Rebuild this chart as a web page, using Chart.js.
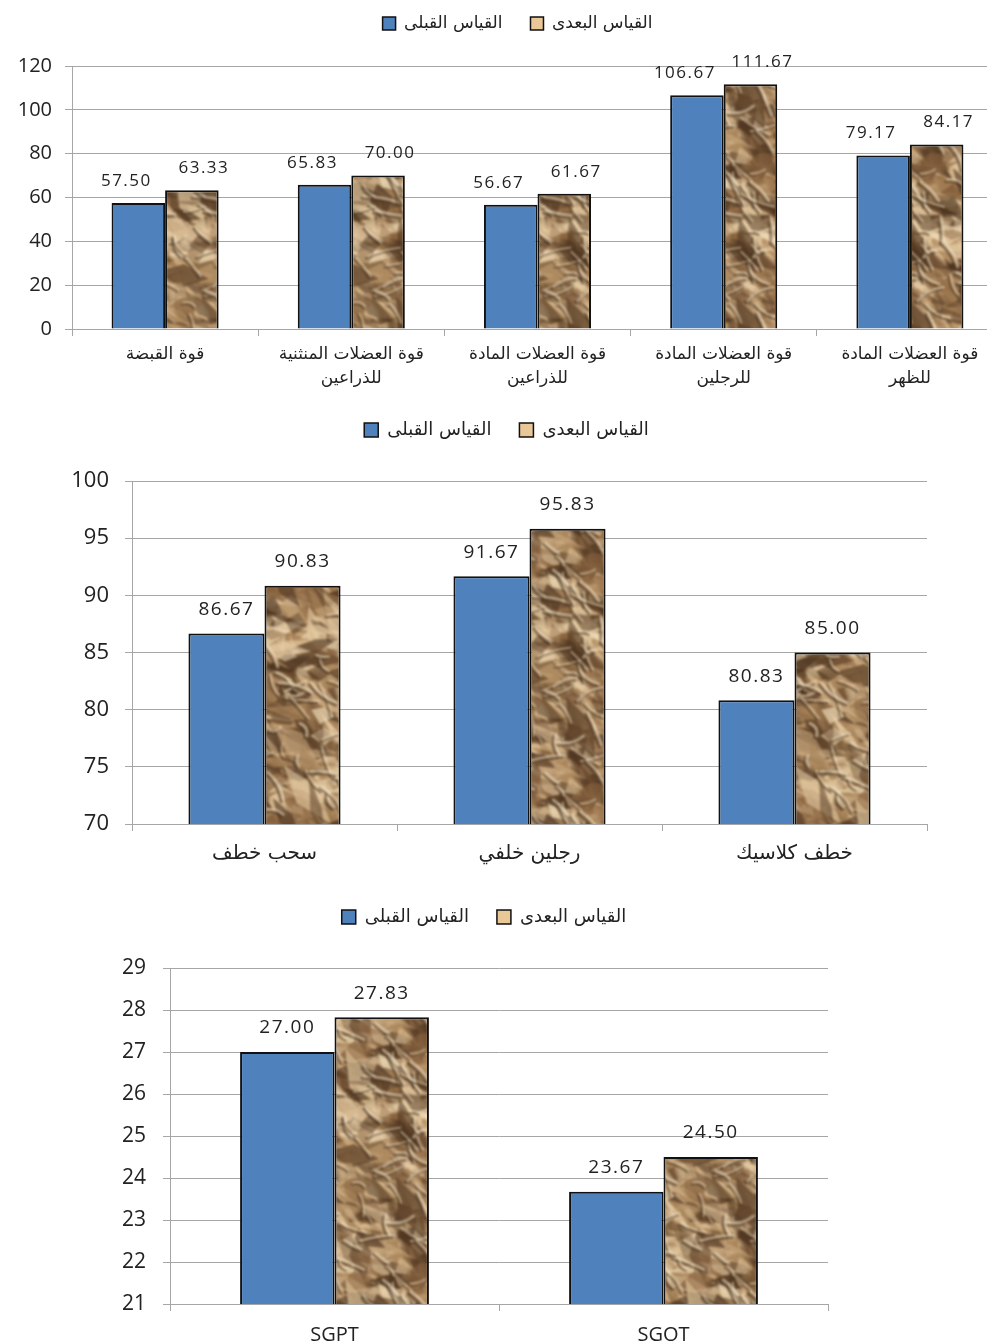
<!DOCTYPE html>
<html>
<head>
<meta charset="utf-8">
<script src="https://cdn.jsdelivr.net/npm/chart.js@4/dist/chart.umd.min.js"></script>
<style>
  html, body { margin: 0; padding: 0; background: #fff; }
  body { width: 987px; height: 1343px; position: relative; overflow: hidden; }
  canvas { position: absolute; left: 0; }
</style>
</head>
<body>
<canvas id="c1" width="1003" height="400" style="top:0px"></canvas>
<canvas id="c2" width="987" height="480" style="top:400px"></canvas>
<canvas id="c3" width="987" height="463" style="top:880px"></canvas>
<script>
// اسماء القياسين
var seriesNames = ['القياس القبلى', 'القياس البعدى'];

// الشكل 1
var labels1 = [
    'قوة القبضة',
    ['قوة العضلات المنثنية', 'للذراعين'],
    ['قوة العضلات المادة', 'للذراعين'],
    ['قوة العضلات المادة', 'للرجلين'],
    ['قوة العضلات المادة', 'للظهر']
];
var pre1 = [57.50, 65.83, 56.67, 106.67, 79.17];
var post1 = [63.33, 70.00, 61.67, 111.67, 84.17];
var ticks1 = { min: 0, max: 120, step: 20 };

// الشكل 2
var labels2 = ['سحب خطف', 'رجلين خلفي', 'خطف كلاسيك'];
var pre2 = [86.67, 91.67, 80.83];
var post2 = [90.83, 95.83, 85.00];
var ticks2 = { min: 70, max: 100, step: 5 };

// الشكل 3
var labels3 = ['SGPT', 'SGOT'];
var pre3 = [27.00, 23.67];
var post3 = [27.83, 24.50];
var ticks3 = { min: 21, max: 29, step: 1 };

var blue = '#4f81bd';
var legendTan = '#e9c796';
var gridColor = '#a6a6a6';
var textColor = '#222';

// texture for the crumpled paper bars (tiles without seams)
function makePaper() {
    var w = 170, h = 230;
    var raw = document.createElement('canvas');
    raw.width = w; raw.height = h;
    var g = raw.getContext('2d');
    var seed = 9871;
    function rnd() { seed = (seed * 16807) % 2147483647; return seed / 2147483647; }
    g.fillStyle = '#ad8a60';
    g.fillRect(0, 0, w, h);
    var shades = ['#efdab5', '#e2c79e', '#caa97e', '#a9845a', '#845f3c', '#5e4229', '#4a321e'];

    function wrapped(draw) {
        for (var ox = -1; ox <= 1; ox++) {
            for (var oy = -1; oy <= 1; oy++) {
                g.save();
                g.translate(ox * w, oy * h);
                draw();
                g.restore();
            }
        }
    }
    // facets
    for (var i = 0; i < 400; i++) {
        (function () {
            var x = rnd() * w, y = rnd() * h;
            var len = 10 + rnd() * 28, wid = 4 + rnd() * 10, ang = -0.4 + rnd() * 1.9;
            var col = shades[Math.floor(rnd() * shades.length)];
            var al = 0.35 + rnd() * 0.4;
            var k = 0.4 + rnd() * 0.6;
            wrapped(function () {
                g.fillStyle = col;
                g.globalAlpha = al;
                g.beginPath();
                g.moveTo(x + Math.cos(ang) * len, y + Math.sin(ang) * len);
                g.lineTo(x + Math.cos(ang + 1.57) * wid, y + Math.sin(ang + 1.57) * wid);
                g.lineTo(x - Math.cos(ang) * len, y - Math.sin(ang) * len);
                g.lineTo(x - Math.cos(ang + 1.57) * wid * k, y - Math.sin(ang + 1.57) * wid * k);
                g.closePath();
                g.fill();
            });
        })();
    }
    // soft folds: dark edge with a light edge next to it
    g.lineCap = 'round';
    for (var j = 0; j < 80; j++) {
        (function () {
            var cx = rnd() * w, cy = rnd() * h, a = -0.5 + rnd() * 2.0, l = 10 + rnd() * 26;
            var bend = (rnd() - 0.5) * 12;
            var lw = 1.4 + rnd() * 1.8;
            wrapped(function () {
                var ex = cx + Math.cos(a) * l, ey = cy + Math.sin(a) * l;
                var mx = (cx + ex) / 2 - Math.sin(a) * bend, my = (cy + ey) / 2 + Math.cos(a) * bend;
                g.globalAlpha = 0.6;
                g.lineWidth = lw;
                g.strokeStyle = '#4a321e';
                g.beginPath(); g.moveTo(cx, cy); g.quadraticCurveTo(mx, my, ex, ey); g.stroke();
                g.strokeStyle = '#f3e2c2';
                g.globalAlpha = 0.55;
                g.beginPath(); g.moveTo(cx + 2, cy - 2); g.quadraticCurveTo(mx + 2, my - 2, ex + 2, ey - 2); g.stroke();
            });
        })();
    }
    g.globalAlpha = 1;

    var big = document.createElement('canvas');
    big.width = w * 3; big.height = h * 3;
    var b = big.getContext('2d');
    for (var tx = 0; tx < 3; tx++) {
        for (var ty = 0; ty < 3; ty++) b.drawImage(raw, tx * w, ty * h);
    }
    var out = document.createElement('canvas');
    out.width = w; out.height = h;
    var o = out.getContext('2d');
    o.filter = 'blur(1.3px)';
    o.drawImage(big, -w, -h);
    return out;
}
var paper = makePaper();

// moves the legend and gives it a fixed height
var legendFix = {
    id: 'legendFix',
    afterInit: function (chart, args, opts) {
        var lg = chart.legend;
        var fit = lg.fit;
        lg.fit = function () {
            fit.call(this);
            this.height = opts.height;
        };
    },
    afterLayout: function (chart, args, opts) {
        var lg = chart.legend;
        lg.left += opts.dx; lg.right += opts.dx;
        lg.top += opts.dy; lg.bottom += opts.dy;
    }
};

// numbers above the bars
var valueLabels = {
    id: 'valueLabels',
    afterDatasetsDraw: function (chart, args, opts) {
        var ctx = chart.ctx;
        ctx.save();
        ctx.font = opts.font;
        ctx.letterSpacing = opts.spacing;
        ctx.fillStyle = textColor;
        ctx.textAlign = 'center';
        ctx.textBaseline = 'middle';
        chart.data.datasets.forEach(function (ds, i) {
            var meta = chart.getDatasetMeta(i);
            meta.data.forEach(function (bar, j) {
                var dx = (i === 0 ? -1 : 1) * opts.shift;
                ctx.fillText(ds.data[j].toFixed(2), bar.x + dx, bar.y - opts.gap);
            });
        });
        ctx.restore();
    }
};

function makeChart(id, labels, pre, post, t, s) {
    var ctx = document.getElementById(id).getContext('2d');
    var pattern = ctx.createPattern(paper, 'repeat');
    return new Chart(ctx, {
        type: 'bar',
        data: {
            labels: labels,
            datasets: [
                { label: seriesNames[0], data: pre, backgroundColor: blue, borderColor: '#111', borderWidth: 2,
                  categoryPercentage: s.cat, barPercentage: 1 },
                { label: seriesNames[1], data: post, backgroundColor: pattern, borderColor: '#111', borderWidth: 2,
                  categoryPercentage: s.cat, barPercentage: 1 }
            ]
        },
        options: {
            responsive: false,
            animation: false,
            layout: { padding: { top: 0, left: 0, right: s.padRight, bottom: 0 } },
            plugins: {
                tooltip: { enabled: false },
                legend: {
                    position: 'top',
                    labels: {
                        color: textColor,
                        font: { family: 'DejaVu Sans', size: s.legendFont },
                        boxWidth: s.box,
                        boxHeight: s.box,
                        padding: 28,
                        generateLabels: function (chart) {
                            var items = Chart.defaults.plugins.legend.labels.generateLabels(chart);
                            items.forEach(function (it, i) {
                                it.fillStyle = i === 0 ? blue : legendTan;
                                it.strokeStyle = '#111';
                                it.lineWidth = 1.5;
                            });
                            return items;
                        }
                    }
                },
                legendFix: { height: s.legendH, dx: s.legendDx, dy: s.legendDy },
                valueLabels: { font: s.valueFont, spacing: s.spacing, gap: s.gap, shift: s.shift }
            },
            scales: {
                x: {
                    grid: { drawOnChartArea: false, color: gridColor, tickLength: 7, offset: true },
                    border: { color: gridColor },
                    ticks: {
                        color: textColor,
                        padding: s.xPad,
                        maxRotation: 0,
                        autoSkip: false,
                        font: { family: s.xFamily, size: s.xFont, lineHeight: s.xLine }
                    },
                    afterFit: function (scale) { scale.height = s.xH; }
                },
                y: {
                    min: t.min,
                    max: t.max,
                    grid: { color: gridColor, tickLength: 7 },
                    border: { color: gridColor },
                    ticks: {
                        stepSize: t.step,
                        color: textColor,
                        padding: s.yPad,
                        font: { family: 'Open Sans', size: s.yFont }
                    },
                    afterFit: function (scale) { scale.width = s.yW; }
                }
            }
        },
        plugins: [legendFix, valueLabels]
    });
}

makeChart('c1', labels1, pre1, post1, ticks1, {
    cat: 0.575, padRight: 0, legendFont: 17, box: 13, legendH: 66, legendDx: 16, legendDy: -13,
    valueFont: '17px "Open Sans"', spacing: '1.5px', gap: 22, shift: 12,
    xPad: 7, xFamily: 'DejaVu Sans', xFont: 17, xLine: 1.4, xH: 71, yPad: 13, yFont: 20, yW: 72
});
makeChart('c2', labels2, pre2, post2, ticks2, {
    cat: 0.574, padRight: 60, legendFont: 18, box: 14, legendH: 81, legendDx: 43, legendDy: -7,
    valueFont: '19px "Open Sans"', spacing: '1.5px', gap: 24, shift: 0,
    xPad: 9, xFamily: 'DejaVu Sans', xFont: 20, xLine: 1.4, xH: 56, yPad: 16, yFont: 22, yW: 132
});
makeChart('c3', labels3, pre3, post3, ticks3, {
    cat: 0.574, padRight: 159, legendFont: 18, box: 14, legendH: 88, legendDx: 70, legendDy: 0,
    valueFont: '19px "Open Sans"', spacing: '1.5px', gap: 24, shift: 0,
    xPad: 10, xFamily: 'Open Sans', xFont: 20, xLine: 1.4, xH: 39, yPad: 17, yFont: 21, yW: 170
});
</script>
</body>
</html>
